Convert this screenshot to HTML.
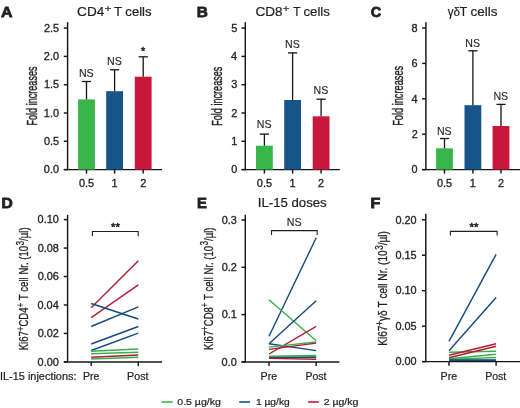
<!DOCTYPE html>
<html><head><meta charset="utf-8"><style>
html,body{margin:0;padding:0;background:#fff;}
svg{display:block;will-change:transform;}
text{font-family:"Liberation Sans",sans-serif;stroke:#231f20;stroke-width:0.22px;}
</style></head><body>
<svg width="520" height="408" viewBox="0 0 520 408">
<rect width="520" height="408" fill="#fff"/>
<text x="0.90" y="16.80" font-size="15.5" font-weight="bold" fill="#231f20" textLength="11.52" lengthAdjust="spacingAndGlyphs" style="stroke-width:0.8px">A</text>
<text x="196.87" y="17.10" font-size="15.5" font-weight="bold" fill="#231f20" textLength="11.13" lengthAdjust="spacingAndGlyphs" style="stroke-width:0.8px">B</text>
<text x="370.70" y="17.10" font-size="15.5" font-weight="bold" fill="#231f20" textLength="10.49" lengthAdjust="spacingAndGlyphs" style="stroke-width:0.8px">C</text>
<text x="1.55" y="208.40" font-size="15.5" font-weight="bold" fill="#231f20" textLength="11.30" lengthAdjust="spacingAndGlyphs" style="stroke-width:0.8px">D</text>
<text x="197.11" y="208.40" font-size="15.5" font-weight="bold" fill="#231f20" textLength="9.87" lengthAdjust="spacingAndGlyphs" style="stroke-width:0.8px">E</text>
<text x="370.42" y="208.40" font-size="15.5" font-weight="bold" fill="#231f20" textLength="9.87" lengthAdjust="spacingAndGlyphs" style="stroke-width:0.8px">F</text>
<line x1="67.60" y1="22.20" x2="67.60" y2="170.32" stroke="#161616" stroke-width="1.45" stroke-linecap="butt"/>
<line x1="63.80" y1="169.60" x2="67.60" y2="169.60" stroke="#161616" stroke-width="1.45" stroke-linecap="butt"/>
<text x="43.87" y="173.30" font-size="10.9" fill="#231f20" textLength="15.15" lengthAdjust="spacingAndGlyphs" style="stroke-width:0.32px">0.0</text>
<line x1="63.80" y1="141.30" x2="67.60" y2="141.30" stroke="#161616" stroke-width="1.45" stroke-linecap="butt"/>
<text x="43.91" y="145.00" font-size="10.9" fill="#231f20" textLength="15.15" lengthAdjust="spacingAndGlyphs" style="stroke-width:0.32px">0.5</text>
<line x1="63.80" y1="113.00" x2="67.60" y2="113.00" stroke="#161616" stroke-width="1.45" stroke-linecap="butt"/>
<text x="43.87" y="116.70" font-size="10.9" fill="#231f20" textLength="15.15" lengthAdjust="spacingAndGlyphs" style="stroke-width:0.32px">1.0</text>
<line x1="63.80" y1="84.70" x2="67.60" y2="84.70" stroke="#161616" stroke-width="1.45" stroke-linecap="butt"/>
<text x="43.91" y="88.40" font-size="10.9" fill="#231f20" textLength="15.15" lengthAdjust="spacingAndGlyphs" style="stroke-width:0.32px">1.5</text>
<line x1="63.80" y1="56.40" x2="67.60" y2="56.40" stroke="#161616" stroke-width="1.45" stroke-linecap="butt"/>
<text x="43.87" y="60.10" font-size="10.9" fill="#231f20" textLength="15.15" lengthAdjust="spacingAndGlyphs" style="stroke-width:0.32px">2.0</text>
<line x1="63.80" y1="28.10" x2="67.60" y2="28.10" stroke="#161616" stroke-width="1.45" stroke-linecap="butt"/>
<text x="43.91" y="31.80" font-size="10.9" fill="#231f20" textLength="15.15" lengthAdjust="spacingAndGlyphs" style="stroke-width:0.32px">2.5</text>
<line x1="63.80" y1="169.60" x2="162.00" y2="169.60" stroke="#161616" stroke-width="1.45" stroke-linecap="butt"/>
<rect x="78.10" y="99.40" width="16.80" height="70.20" fill="#3ab54a"/>
<line x1="86.50" y1="81.50" x2="86.50" y2="99.40" stroke="#151515" stroke-width="1.3" stroke-linecap="butt"/>
<line x1="81.90" y1="81.50" x2="91.10" y2="81.50" stroke="#151515" stroke-width="1.3" stroke-linecap="butt"/>
<line x1="86.50" y1="169.60" x2="86.50" y2="173.60" stroke="#161616" stroke-width="1.45" stroke-linecap="butt"/>
<text x="78.95" y="77.00" font-size="10.6" fill="#231f20" textLength="14.73" lengthAdjust="spacingAndGlyphs" style="stroke-width:0.12px">NS</text>
<rect x="106.20" y="91.20" width="16.80" height="78.40" fill="#175487"/>
<line x1="114.60" y1="69.80" x2="114.60" y2="91.20" stroke="#151515" stroke-width="1.3" stroke-linecap="butt"/>
<line x1="110.00" y1="69.80" x2="119.20" y2="69.80" stroke="#151515" stroke-width="1.3" stroke-linecap="butt"/>
<line x1="114.60" y1="169.60" x2="114.60" y2="173.60" stroke="#161616" stroke-width="1.45" stroke-linecap="butt"/>
<text x="107.05" y="64.50" font-size="10.6" fill="#231f20" textLength="14.73" lengthAdjust="spacingAndGlyphs" style="stroke-width:0.12px">NS</text>
<rect x="134.80" y="76.70" width="16.80" height="92.90" fill="#c8173a"/>
<line x1="143.20" y1="56.80" x2="143.20" y2="76.70" stroke="#151515" stroke-width="1.3" stroke-linecap="butt"/>
<line x1="138.60" y1="56.80" x2="147.80" y2="56.80" stroke="#151515" stroke-width="1.3" stroke-linecap="butt"/>
<line x1="143.20" y1="169.60" x2="143.20" y2="173.60" stroke="#161616" stroke-width="1.45" stroke-linecap="butt"/>
<text x="141.10" y="55.30" font-size="10.8" fill="#231f20" textLength="4.20" lengthAdjust="spacingAndGlyphs" style="stroke-width:0.5px">*</text>
<text x="78.94" y="186.80" font-size="10.9" fill="#231f20" textLength="15.15" lengthAdjust="spacingAndGlyphs" style="stroke-width:0.32px">0.5</text>
<text x="111.42" y="186.80" font-size="10.9" fill="#231f20" textLength="6.06" lengthAdjust="spacingAndGlyphs" style="stroke-width:0.32px">1</text>
<text x="140.17" y="186.80" font-size="10.9" fill="#231f20" textLength="6.06" lengthAdjust="spacingAndGlyphs" style="stroke-width:0.32px">2</text>
<line x1="245.30" y1="22.20" x2="245.30" y2="170.32" stroke="#161616" stroke-width="1.45" stroke-linecap="butt"/>
<line x1="241.50" y1="169.60" x2="245.30" y2="169.60" stroke="#161616" stroke-width="1.45" stroke-linecap="butt"/>
<text x="231.16" y="173.30" font-size="10.9" fill="#231f20" textLength="6.06" lengthAdjust="spacingAndGlyphs" style="stroke-width:0.32px">0</text>
<line x1="241.50" y1="141.30" x2="245.30" y2="141.30" stroke="#161616" stroke-width="1.45" stroke-linecap="butt"/>
<text x="231.27" y="145.00" font-size="10.9" fill="#231f20" textLength="6.06" lengthAdjust="spacingAndGlyphs" style="stroke-width:0.32px">1</text>
<line x1="241.50" y1="113.00" x2="245.30" y2="113.00" stroke="#161616" stroke-width="1.45" stroke-linecap="butt"/>
<text x="231.29" y="116.70" font-size="10.9" fill="#231f20" textLength="6.06" lengthAdjust="spacingAndGlyphs" style="stroke-width:0.32px">2</text>
<line x1="241.50" y1="84.70" x2="245.30" y2="84.70" stroke="#161616" stroke-width="1.45" stroke-linecap="butt"/>
<text x="231.22" y="88.40" font-size="10.9" fill="#231f20" textLength="6.06" lengthAdjust="spacingAndGlyphs" style="stroke-width:0.32px">3</text>
<line x1="241.50" y1="56.40" x2="245.30" y2="56.40" stroke="#161616" stroke-width="1.45" stroke-linecap="butt"/>
<text x="231.06" y="60.10" font-size="10.9" fill="#231f20" textLength="6.06" lengthAdjust="spacingAndGlyphs" style="stroke-width:0.32px">4</text>
<line x1="241.50" y1="28.10" x2="245.30" y2="28.10" stroke="#161616" stroke-width="1.45" stroke-linecap="butt"/>
<text x="231.20" y="31.80" font-size="10.9" fill="#231f20" textLength="6.06" lengthAdjust="spacingAndGlyphs" style="stroke-width:0.32px">5</text>
<line x1="241.50" y1="169.60" x2="339.80" y2="169.60" stroke="#161616" stroke-width="1.45" stroke-linecap="butt"/>
<rect x="256.00" y="145.70" width="16.80" height="23.90" fill="#3ab54a"/>
<line x1="264.40" y1="134.10" x2="264.40" y2="145.70" stroke="#151515" stroke-width="1.3" stroke-linecap="butt"/>
<line x1="259.80" y1="134.10" x2="269.00" y2="134.10" stroke="#151515" stroke-width="1.3" stroke-linecap="butt"/>
<line x1="264.40" y1="169.60" x2="264.40" y2="173.60" stroke="#161616" stroke-width="1.45" stroke-linecap="butt"/>
<text x="256.85" y="127.50" font-size="10.6" fill="#231f20" textLength="14.73" lengthAdjust="spacingAndGlyphs" style="stroke-width:0.12px">NS</text>
<rect x="284.20" y="100.00" width="16.80" height="69.60" fill="#175487"/>
<line x1="292.60" y1="52.90" x2="292.60" y2="100.00" stroke="#151515" stroke-width="1.3" stroke-linecap="butt"/>
<line x1="288.00" y1="52.90" x2="297.20" y2="52.90" stroke="#151515" stroke-width="1.3" stroke-linecap="butt"/>
<line x1="292.60" y1="169.60" x2="292.60" y2="173.60" stroke="#161616" stroke-width="1.45" stroke-linecap="butt"/>
<text x="285.05" y="47.80" font-size="10.6" fill="#231f20" textLength="14.73" lengthAdjust="spacingAndGlyphs" style="stroke-width:0.12px">NS</text>
<rect x="312.70" y="116.30" width="16.80" height="53.30" fill="#c8173a"/>
<line x1="321.10" y1="99.20" x2="321.10" y2="116.30" stroke="#151515" stroke-width="1.3" stroke-linecap="butt"/>
<line x1="316.50" y1="99.20" x2="325.70" y2="99.20" stroke="#151515" stroke-width="1.3" stroke-linecap="butt"/>
<line x1="321.10" y1="169.60" x2="321.10" y2="173.60" stroke="#161616" stroke-width="1.45" stroke-linecap="butt"/>
<text x="313.55" y="94.10" font-size="10.6" fill="#231f20" textLength="14.73" lengthAdjust="spacingAndGlyphs" style="stroke-width:0.12px">NS</text>
<text x="256.84" y="186.80" font-size="10.9" fill="#231f20" textLength="15.15" lengthAdjust="spacingAndGlyphs" style="stroke-width:0.32px">0.5</text>
<text x="289.42" y="186.80" font-size="10.9" fill="#231f20" textLength="6.06" lengthAdjust="spacingAndGlyphs" style="stroke-width:0.32px">1</text>
<text x="318.07" y="186.80" font-size="10.9" fill="#231f20" textLength="6.06" lengthAdjust="spacingAndGlyphs" style="stroke-width:0.32px">2</text>
<line x1="425.90" y1="22.20" x2="425.90" y2="170.32" stroke="#161616" stroke-width="1.45" stroke-linecap="butt"/>
<line x1="422.10" y1="169.60" x2="425.90" y2="169.60" stroke="#161616" stroke-width="1.45" stroke-linecap="butt"/>
<text x="411.56" y="173.30" font-size="10.9" fill="#231f20" textLength="6.06" lengthAdjust="spacingAndGlyphs" style="stroke-width:0.32px">0</text>
<line x1="422.10" y1="134.20" x2="425.90" y2="134.20" stroke="#161616" stroke-width="1.45" stroke-linecap="butt"/>
<text x="411.69" y="137.90" font-size="10.9" fill="#231f20" textLength="6.06" lengthAdjust="spacingAndGlyphs" style="stroke-width:0.32px">2</text>
<line x1="422.10" y1="98.80" x2="425.90" y2="98.80" stroke="#161616" stroke-width="1.45" stroke-linecap="butt"/>
<text x="411.46" y="102.50" font-size="10.9" fill="#231f20" textLength="6.06" lengthAdjust="spacingAndGlyphs" style="stroke-width:0.32px">4</text>
<line x1="422.10" y1="63.40" x2="425.90" y2="63.40" stroke="#161616" stroke-width="1.45" stroke-linecap="butt"/>
<text x="411.62" y="67.10" font-size="10.9" fill="#231f20" textLength="6.06" lengthAdjust="spacingAndGlyphs" style="stroke-width:0.32px">6</text>
<line x1="422.10" y1="28.00" x2="425.90" y2="28.00" stroke="#161616" stroke-width="1.45" stroke-linecap="butt"/>
<text x="411.61" y="31.70" font-size="10.9" fill="#231f20" textLength="6.06" lengthAdjust="spacingAndGlyphs" style="stroke-width:0.32px">8</text>
<line x1="422.10" y1="169.60" x2="520.00" y2="169.60" stroke="#161616" stroke-width="1.45" stroke-linecap="butt"/>
<rect x="436.10" y="148.30" width="16.80" height="21.30" fill="#3ab54a"/>
<line x1="444.50" y1="138.50" x2="444.50" y2="148.30" stroke="#151515" stroke-width="1.3" stroke-linecap="butt"/>
<line x1="439.90" y1="138.50" x2="449.10" y2="138.50" stroke="#151515" stroke-width="1.3" stroke-linecap="butt"/>
<line x1="444.50" y1="169.60" x2="444.50" y2="173.60" stroke="#161616" stroke-width="1.45" stroke-linecap="butt"/>
<text x="436.95" y="134.60" font-size="10.6" fill="#231f20" textLength="14.73" lengthAdjust="spacingAndGlyphs" style="stroke-width:0.12px">NS</text>
<rect x="464.50" y="105.20" width="16.80" height="64.40" fill="#175487"/>
<line x1="472.90" y1="50.80" x2="472.90" y2="105.20" stroke="#151515" stroke-width="1.3" stroke-linecap="butt"/>
<line x1="468.30" y1="50.80" x2="477.50" y2="50.80" stroke="#151515" stroke-width="1.3" stroke-linecap="butt"/>
<line x1="472.90" y1="169.60" x2="472.90" y2="173.60" stroke="#161616" stroke-width="1.45" stroke-linecap="butt"/>
<text x="465.35" y="46.60" font-size="10.6" fill="#231f20" textLength="14.73" lengthAdjust="spacingAndGlyphs" style="stroke-width:0.12px">NS</text>
<rect x="492.60" y="126.00" width="16.80" height="43.60" fill="#c8173a"/>
<line x1="501.00" y1="104.40" x2="501.00" y2="126.00" stroke="#151515" stroke-width="1.3" stroke-linecap="butt"/>
<line x1="496.40" y1="104.40" x2="505.60" y2="104.40" stroke="#151515" stroke-width="1.3" stroke-linecap="butt"/>
<line x1="501.00" y1="169.60" x2="501.00" y2="173.60" stroke="#161616" stroke-width="1.45" stroke-linecap="butt"/>
<text x="493.45" y="99.70" font-size="10.6" fill="#231f20" textLength="14.73" lengthAdjust="spacingAndGlyphs" style="stroke-width:0.12px">NS</text>
<text x="436.94" y="186.80" font-size="10.9" fill="#231f20" textLength="15.15" lengthAdjust="spacingAndGlyphs" style="stroke-width:0.32px">0.5</text>
<text x="469.72" y="186.80" font-size="10.9" fill="#231f20" textLength="6.06" lengthAdjust="spacingAndGlyphs" style="stroke-width:0.32px">1</text>
<text x="497.97" y="186.80" font-size="10.9" fill="#231f20" textLength="6.06" lengthAdjust="spacingAndGlyphs" style="stroke-width:0.32px">2</text>
<g>
<text x="77.11" y="15.90" font-size="12.8" fill="#231f20" textLength="27.19" lengthAdjust="spacingAndGlyphs">CD4</text>
<text x="104.62" y="11.70" font-size="9.8" fill="#231f20" textLength="6.97" lengthAdjust="spacingAndGlyphs">+</text>
<text x="114.00" y="15.90" font-size="12.8" fill="#231f20" textLength="8.10" lengthAdjust="spacingAndGlyphs">T</text>
<text x="125.34" y="15.90" font-size="12.8" fill="#231f20" textLength="26.23" lengthAdjust="spacingAndGlyphs">cells</text>
<text x="255.51" y="15.90" font-size="12.8" fill="#231f20" textLength="27.08" lengthAdjust="spacingAndGlyphs">CD8</text>
<text x="282.74" y="11.90" font-size="9.8" fill="#231f20" textLength="6.73" lengthAdjust="spacingAndGlyphs">+</text>
<text x="293.23" y="15.90" font-size="12.8" fill="#231f20" textLength="7.24" lengthAdjust="spacingAndGlyphs">T</text>
<text x="303.54" y="15.90" font-size="12.8" fill="#231f20" textLength="26.33" lengthAdjust="spacingAndGlyphs">cells</text>
<text x="447.76" y="15.90" font-size="12.3" fill="#231f20" textLength="12.34" lengthAdjust="spacingAndGlyphs">γδ</text>
<text x="459.63" y="15.90" font-size="12.8" fill="#231f20" textLength="7.45" lengthAdjust="spacingAndGlyphs">T</text>
<text x="470.63" y="15.90" font-size="12.8" fill="#231f20" textLength="26.96" lengthAdjust="spacingAndGlyphs">cells</text>
<text x="257.78" y="206.70" font-size="12.2" fill="#231f20" textLength="68.89" lengthAdjust="spacingAndGlyphs">IL-15 doses</text>
</g>
<text transform="translate(36.80,125.55) rotate(-90)" font-size="13.8" fill="#231f20" textLength="59.07" lengthAdjust="spacingAndGlyphs" style="stroke-width:0.4px">Fold increases</text>
<text transform="translate(222.00,125.75) rotate(-90)" font-size="14.0" fill="#231f20" textLength="59.07" lengthAdjust="spacingAndGlyphs" style="stroke-width:0.4px">Fold increases</text>
<text transform="translate(403.00,125.86) rotate(-90)" font-size="14.0" fill="#231f20" textLength="59.99" lengthAdjust="spacingAndGlyphs" style="stroke-width:0.4px">Fold increases</text>
<g transform="translate(28.40,349.50) rotate(-90) scale(0.7064,1) translate(-1.12,0)"><text fill="#231f20" style="stroke-width:0.3px"><tspan x="0.00" y="0.00" font-size="13.60">Ki67</tspan><tspan x="27.22" y="-4.62" font-size="10.88">+</tspan><tspan x="33.57" y="0.00" font-size="13.60">CD4</tspan><tspan x="60.78" y="-4.62" font-size="10.88">+</tspan><tspan x="67.13" y="0.00" font-size="13.60"> T cell Nr. (10</tspan><tspan x="148.75" y="-4.62" font-size="10.88">3</tspan><tspan x="154.80" y="0.00" font-size="13.60">/µl)</tspan></text></g>
<g transform="translate(212.60,349.10) rotate(-90) scale(0.7035,1) translate(-1.12,0)"><text fill="#231f20" style="stroke-width:0.3px"><tspan x="0.00" y="0.00" font-size="13.60">Ki67</tspan><tspan x="27.22" y="-4.62" font-size="10.88">+</tspan><tspan x="33.57" y="0.00" font-size="13.60">CD8</tspan><tspan x="60.78" y="-4.62" font-size="10.88">+</tspan><tspan x="67.13" y="0.00" font-size="13.60"> T cell Nr. (10</tspan><tspan x="148.75" y="-4.62" font-size="10.88">3</tspan><tspan x="154.80" y="0.00" font-size="13.60">/µl)</tspan></text></g>
<g transform="translate(387.00,345.00) rotate(-90) scale(0.7639,1) translate(-1.08,0)"><text fill="#231f20" style="stroke-width:0.3px"><tspan x="0.00" y="0.00" font-size="13.20">Ki67</tspan><tspan x="26.42" y="-4.49" font-size="10.56">+</tspan><tspan x="32.59" y="0.00" font-size="13.20">γδ</tspan><tspan x="46.53" y="0.00" font-size="13.20"> T cell Nr. (10</tspan><tspan x="125.75" y="-4.49" font-size="10.56">3</tspan><tspan x="131.62" y="0.00" font-size="13.20">/µl)</tspan></text></g>
<line x1="67.60" y1="214.80" x2="67.60" y2="362.62" stroke="#161616" stroke-width="1.45" stroke-linecap="butt"/>
<line x1="63.80" y1="361.90" x2="67.60" y2="361.90" stroke="#161616" stroke-width="1.45" stroke-linecap="butt"/>
<text x="37.61" y="365.60" font-size="10.9" fill="#231f20" textLength="21.21" lengthAdjust="spacingAndGlyphs" style="stroke-width:0.32px">0.00</text>
<line x1="63.80" y1="333.44" x2="67.60" y2="333.44" stroke="#161616" stroke-width="1.45" stroke-linecap="butt"/>
<text x="37.73" y="337.14" font-size="10.9" fill="#231f20" textLength="21.21" lengthAdjust="spacingAndGlyphs" style="stroke-width:0.32px">0.02</text>
<line x1="63.80" y1="304.98" x2="67.60" y2="304.98" stroke="#161616" stroke-width="1.45" stroke-linecap="butt"/>
<text x="37.50" y="308.68" font-size="10.9" fill="#231f20" textLength="21.21" lengthAdjust="spacingAndGlyphs" style="stroke-width:0.32px">0.04</text>
<line x1="63.80" y1="276.52" x2="67.60" y2="276.52" stroke="#161616" stroke-width="1.45" stroke-linecap="butt"/>
<text x="37.66" y="280.22" font-size="10.9" fill="#231f20" textLength="21.21" lengthAdjust="spacingAndGlyphs" style="stroke-width:0.32px">0.06</text>
<line x1="63.80" y1="248.06" x2="67.60" y2="248.06" stroke="#161616" stroke-width="1.45" stroke-linecap="butt"/>
<text x="37.66" y="251.76" font-size="10.9" fill="#231f20" textLength="21.21" lengthAdjust="spacingAndGlyphs" style="stroke-width:0.32px">0.08</text>
<line x1="63.80" y1="219.60" x2="67.60" y2="219.60" stroke="#161616" stroke-width="1.45" stroke-linecap="butt"/>
<text x="37.61" y="223.30" font-size="10.9" fill="#231f20" textLength="21.21" lengthAdjust="spacingAndGlyphs" style="stroke-width:0.32px">0.10</text>
<line x1="91.20" y1="307.80" x2="138.30" y2="260.80" stroke="#b31a36" stroke-width="1.4" stroke-linecap="butt"/>
<line x1="91.20" y1="317.60" x2="138.30" y2="284.90" stroke="#b31a36" stroke-width="1.4" stroke-linecap="butt"/>
<line x1="91.20" y1="303.50" x2="138.30" y2="319.00" stroke="#164a7c" stroke-width="1.4" stroke-linecap="butt"/>
<line x1="91.20" y1="326.50" x2="138.30" y2="306.90" stroke="#164a7c" stroke-width="1.4" stroke-linecap="butt"/>
<line x1="91.20" y1="344.00" x2="138.30" y2="326.50" stroke="#164a7c" stroke-width="1.4" stroke-linecap="butt"/>
<line x1="91.20" y1="350.50" x2="138.30" y2="333.10" stroke="#164a7c" stroke-width="1.4" stroke-linecap="butt"/>
<line x1="91.20" y1="351.20" x2="138.30" y2="349.00" stroke="#3aae4a" stroke-width="1.4" stroke-linecap="butt"/>
<line x1="91.20" y1="353.70" x2="138.30" y2="352.30" stroke="#3aae4a" stroke-width="1.4" stroke-linecap="butt"/>
<line x1="91.20" y1="357.20" x2="138.30" y2="355.00" stroke="#b31a36" stroke-width="1.4" stroke-linecap="butt"/>
<line x1="91.20" y1="359.00" x2="138.30" y2="357.30" stroke="#3aae4a" stroke-width="1.4" stroke-linecap="butt"/>
<line x1="63.80" y1="361.90" x2="162.00" y2="361.90" stroke="#161616" stroke-width="1.45" stroke-linecap="butt"/>
<line x1="91.20" y1="361.90" x2="91.20" y2="366.10" stroke="#161616" stroke-width="1.45" stroke-linecap="butt"/>
<line x1="138.30" y1="361.90" x2="138.30" y2="366.10" stroke="#161616" stroke-width="1.45" stroke-linecap="butt"/>
<polyline points="92.4,236.2 92.4,231.5 138.2,231.5 138.2,236.2" fill="none" stroke="#231f20" stroke-width="1.1"/>
<text x="111.01" y="231.00" font-size="10.4" fill="#231f20" textLength="8.97" lengthAdjust="spacingAndGlyphs" style="stroke-width:0.5px">**</text>
<text x="82.93" y="379.80" font-size="10.6" fill="#231f20" textLength="16.44" lengthAdjust="spacingAndGlyphs">Pre</text>
<text x="127.02" y="379.80" font-size="10.6" fill="#231f20" textLength="21.46" lengthAdjust="spacingAndGlyphs">Post</text>
<line x1="245.30" y1="214.70" x2="245.30" y2="362.62" stroke="#161616" stroke-width="1.45" stroke-linecap="butt"/>
<line x1="241.50" y1="361.90" x2="245.30" y2="361.90" stroke="#161616" stroke-width="1.45" stroke-linecap="butt"/>
<text x="221.57" y="365.60" font-size="10.9" fill="#231f20" textLength="15.15" lengthAdjust="spacingAndGlyphs" style="stroke-width:0.32px">0.0</text>
<line x1="241.50" y1="314.60" x2="245.30" y2="314.60" stroke="#161616" stroke-width="1.45" stroke-linecap="butt"/>
<text x="221.68" y="318.30" font-size="10.9" fill="#231f20" textLength="15.15" lengthAdjust="spacingAndGlyphs" style="stroke-width:0.32px">0.1</text>
<line x1="241.50" y1="267.30" x2="245.30" y2="267.30" stroke="#161616" stroke-width="1.45" stroke-linecap="butt"/>
<text x="221.70" y="271.00" font-size="10.9" fill="#231f20" textLength="15.15" lengthAdjust="spacingAndGlyphs" style="stroke-width:0.32px">0.2</text>
<line x1="241.50" y1="220.00" x2="245.30" y2="220.00" stroke="#161616" stroke-width="1.45" stroke-linecap="butt"/>
<text x="221.63" y="223.70" font-size="10.9" fill="#231f20" textLength="15.15" lengthAdjust="spacingAndGlyphs" style="stroke-width:0.32px">0.3</text>
<line x1="269.00" y1="336.30" x2="316.20" y2="237.70" stroke="#164a7c" stroke-width="1.4" stroke-linecap="butt"/>
<line x1="269.00" y1="299.80" x2="316.20" y2="340.80" stroke="#3aae4a" stroke-width="1.4" stroke-linecap="butt"/>
<line x1="269.00" y1="343.80" x2="316.20" y2="300.80" stroke="#164a7c" stroke-width="1.4" stroke-linecap="butt"/>
<line x1="269.00" y1="354.00" x2="316.20" y2="326.40" stroke="#b31a36" stroke-width="1.4" stroke-linecap="butt"/>
<line x1="269.00" y1="343.80" x2="316.20" y2="350.60" stroke="#164a7c" stroke-width="1.4" stroke-linecap="butt"/>
<line x1="269.00" y1="347.10" x2="316.20" y2="342.00" stroke="#3aae4a" stroke-width="1.4" stroke-linecap="butt"/>
<line x1="269.00" y1="349.40" x2="316.20" y2="343.10" stroke="#b31a36" stroke-width="1.4" stroke-linecap="butt"/>
<line x1="269.00" y1="356.30" x2="316.20" y2="355.40" stroke="#3aae4a" stroke-width="1.4" stroke-linecap="butt"/>
<line x1="269.00" y1="357.20" x2="316.20" y2="356.60" stroke="#3aae4a" stroke-width="1.4" stroke-linecap="butt"/>
<line x1="269.00" y1="357.80" x2="316.20" y2="357.40" stroke="#164a7c" stroke-width="1.4" stroke-linecap="butt"/>
<line x1="269.00" y1="358.40" x2="316.20" y2="359.20" stroke="#b31a36" stroke-width="1.4" stroke-linecap="butt"/>
<line x1="241.50" y1="361.90" x2="339.40" y2="361.90" stroke="#161616" stroke-width="1.45" stroke-linecap="butt"/>
<line x1="269.00" y1="361.90" x2="269.00" y2="366.10" stroke="#161616" stroke-width="1.45" stroke-linecap="butt"/>
<line x1="316.20" y1="361.90" x2="316.20" y2="366.10" stroke="#161616" stroke-width="1.45" stroke-linecap="butt"/>
<polyline points="271.5,235.0 271.5,230.6 317.2,230.6 317.2,235.0" fill="none" stroke="#231f20" stroke-width="1.1"/>
<text x="286.75" y="226.00" font-size="10.6" fill="#231f20" textLength="14.73" lengthAdjust="spacingAndGlyphs" style="stroke-width:0.12px">NS</text>
<text x="260.62" y="379.80" font-size="10.6" fill="#231f20" textLength="16.65" lengthAdjust="spacingAndGlyphs">Pre</text>
<text x="305.44" y="379.80" font-size="10.6" fill="#231f20" textLength="21.04" lengthAdjust="spacingAndGlyphs">Post</text>
<line x1="425.80" y1="213.80" x2="425.80" y2="362.33" stroke="#161616" stroke-width="1.45" stroke-linecap="butt"/>
<line x1="422.00" y1="361.60" x2="425.80" y2="361.60" stroke="#161616" stroke-width="1.45" stroke-linecap="butt"/>
<text x="395.41" y="365.30" font-size="10.9" fill="#231f20" textLength="21.21" lengthAdjust="spacingAndGlyphs" style="stroke-width:0.32px">0.00</text>
<line x1="422.00" y1="326.15" x2="425.80" y2="326.15" stroke="#161616" stroke-width="1.45" stroke-linecap="butt"/>
<text x="395.44" y="329.85" font-size="10.9" fill="#231f20" textLength="21.21" lengthAdjust="spacingAndGlyphs" style="stroke-width:0.32px">0.05</text>
<line x1="422.00" y1="290.70" x2="425.80" y2="290.70" stroke="#161616" stroke-width="1.45" stroke-linecap="butt"/>
<text x="395.41" y="294.40" font-size="10.9" fill="#231f20" textLength="21.21" lengthAdjust="spacingAndGlyphs" style="stroke-width:0.32px">0.10</text>
<line x1="422.00" y1="255.25" x2="425.80" y2="255.25" stroke="#161616" stroke-width="1.45" stroke-linecap="butt"/>
<text x="395.44" y="258.95" font-size="10.9" fill="#231f20" textLength="21.21" lengthAdjust="spacingAndGlyphs" style="stroke-width:0.32px">0.15</text>
<line x1="422.00" y1="219.80" x2="425.80" y2="219.80" stroke="#161616" stroke-width="1.45" stroke-linecap="butt"/>
<text x="395.41" y="223.50" font-size="10.9" fill="#231f20" textLength="21.21" lengthAdjust="spacingAndGlyphs" style="stroke-width:0.32px">0.20</text>
<line x1="449.00" y1="341.40" x2="496.10" y2="254.30" stroke="#164a7c" stroke-width="1.4" stroke-linecap="butt"/>
<line x1="449.00" y1="350.70" x2="496.10" y2="297.50" stroke="#164a7c" stroke-width="1.4" stroke-linecap="butt"/>
<line x1="449.00" y1="352.20" x2="496.10" y2="351.30" stroke="#3aae4a" stroke-width="1.4" stroke-linecap="butt"/>
<line x1="449.00" y1="355.20" x2="496.10" y2="343.80" stroke="#b31a36" stroke-width="1.4" stroke-linecap="butt"/>
<line x1="449.00" y1="357.70" x2="496.10" y2="346.20" stroke="#b31a36" stroke-width="1.4" stroke-linecap="butt"/>
<line x1="449.00" y1="358.80" x2="496.10" y2="354.20" stroke="#3aae4a" stroke-width="1.4" stroke-linecap="butt"/>
<line x1="449.00" y1="359.40" x2="496.10" y2="357.50" stroke="#3aae4a" stroke-width="1.4" stroke-linecap="butt"/>
<line x1="449.00" y1="360.40" x2="496.10" y2="360.40" stroke="#164a7c" stroke-width="1.4" stroke-linecap="butt"/>
<line x1="449.00" y1="359.90" x2="496.10" y2="359.90" stroke="#164a7c" stroke-width="1.4" stroke-linecap="butt"/>
<line x1="422.00" y1="361.60" x2="520.00" y2="361.60" stroke="#161616" stroke-width="1.45" stroke-linecap="butt"/>
<line x1="449.00" y1="361.60" x2="449.00" y2="365.80" stroke="#161616" stroke-width="1.45" stroke-linecap="butt"/>
<line x1="496.10" y1="361.60" x2="496.10" y2="365.80" stroke="#161616" stroke-width="1.45" stroke-linecap="butt"/>
<polyline points="450.4,235.4 450.4,231.4 497.1,231.4 497.1,235.4" fill="none" stroke="#231f20" stroke-width="1.1"/>
<text x="469.51" y="230.50" font-size="10.4" fill="#231f20" textLength="8.97" lengthAdjust="spacingAndGlyphs" style="stroke-width:0.5px">**</text>
<text x="440.62" y="379.80" font-size="10.6" fill="#231f20" textLength="16.65" lengthAdjust="spacingAndGlyphs">Pre</text>
<text x="485.24" y="379.80" font-size="10.6" fill="#231f20" textLength="21.04" lengthAdjust="spacingAndGlyphs">Post</text>
<text x="-0.01" y="379.50" font-size="10.4" fill="#231f20" textLength="76.51" lengthAdjust="spacingAndGlyphs">IL-15 injections:</text>
<line x1="161.60" y1="402.00" x2="172.70" y2="402.00" stroke="#3ab54a" stroke-width="1.6" stroke-linecap="butt"/>
<text x="177.29" y="404.80" font-size="9.6" fill="#231f20" textLength="43.59" lengthAdjust="spacingAndGlyphs">0.5 µg/kg</text>
<line x1="239.20" y1="402.00" x2="250.00" y2="402.00" stroke="#175487" stroke-width="1.6" stroke-linecap="butt"/>
<text x="255.92" y="404.80" font-size="9.6" fill="#231f20" textLength="33.84" lengthAdjust="spacingAndGlyphs">1 µg/kg</text>
<line x1="308.10" y1="402.00" x2="318.80" y2="402.00" stroke="#c8173a" stroke-width="1.6" stroke-linecap="butt"/>
<text x="323.67" y="404.80" font-size="9.6" fill="#231f20" textLength="34.71" lengthAdjust="spacingAndGlyphs">2 µg/kg</text>
</svg></body></html>
